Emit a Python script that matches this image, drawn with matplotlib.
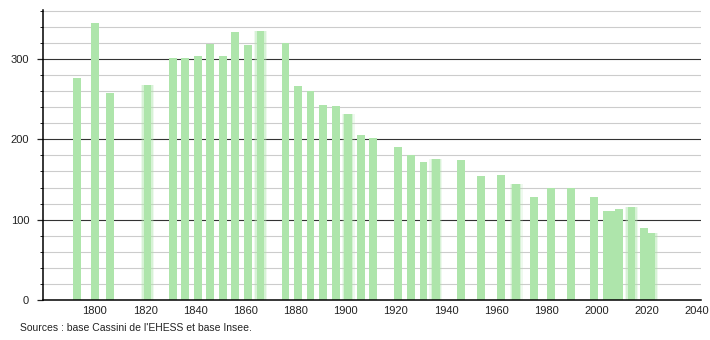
import matplotlib
matplotlib.use("Agg")
import matplotlib.pyplot as plt

# census years and population
years = [1793, 1800, 1806, 1821, 1831, 1836, 1841, 1846, 1851, 1856, 1861, 1866,
         1876, 1881, 1886, 1891, 1896, 1901, 1906, 1911, 1921, 1926, 1931, 1936,
         1946, 1954, 1962, 1968, 1975, 1982, 1990, 1999, 2004, 2006, 2009, 2014,
         2019, 2022]
population = [276, 345, 258, 268, 301, 301, 304, 319, 304, 333, 317, 335,
              320, 266, 260, 243, 241, 232, 206, 202, 190, 180, 172, 175,
              174, 154, 155, 145, 128, 139, 139, 128, 111, 111, 113, 116,
              90, 84]
# bars that look soft-edged in the original
soft = [1821, 1866, 1901, 1936, 1968, 2014, 2022]
xticks = list(range(1800, 2041, 20))
yticks = [0, 100, 200, 300]
source = "Sources : base Cassini de l'EHESS et base Insee."

plt.rcParams['font.family'] = ['Liberation Sans', 'DejaVu Sans']

fig = plt.figure(figsize=(7.1, 3.4), dpi=100)
ax = fig.add_axes([43/710, 40/340, 658/710, 290/340])

# grid: light every 20, dark every 100
for v in range(20, 361, 20):
    if v % 100 == 0:
        ax.axhline(v, color='#333333', lw=0.8, zorder=0)
    else:
        ax.axhline(v, color='#cccccc', lw=0.8, zorder=0)

green = '#aee5ab'
ax.bar(years, population, width=3.1, color=green, zorder=2, linewidth=0)

# fake the blurry edges
sx = [y for y in years if y in soft]
sy = [p for y, p in zip(years, population) if y in soft]
ax.bar(sx, sy, width=4.2, color=green, alpha=0.35, zorder=1.5, linewidth=0)
ax.bar(sx, sy, width=5.2, color=green, alpha=0.2, zorder=1.4, linewidth=0)

ax.set_xlim(1779.3, 2041.7)
ax.set_ylim(0, 361)

for s in ['top', 'right']:
    ax.spines[s].set_visible(False)
ax.spines['left'].set_color('black')
ax.spines['bottom'].set_color('black')
ax.spines['left'].set_linewidth(1.1)
ax.spines['bottom'].set_linewidth(1.1)

ax.set_xticks(xticks)
ax.set_xticklabels([str(t) for t in xticks])
ax.set_yticks(yticks)
ax.set_yticks(list(range(0, 361, 20)), minor=True)
ax.tick_params(axis='x', length=0, pad=4, labelsize=8, colors='#222222')
ax.tick_params(axis='y', which='major', length=4, width=0.9, pad=6, labelsize=8, colors='#222222')
ax.tick_params(axis='y', which='minor', length=2, width=0.7, color='#222222')

fig.text(20/710, 1 - 328/340, source, fontsize=7.5, color='#222222', va='center', ha='left')

fig.savefig('out.png', dpi=100)
